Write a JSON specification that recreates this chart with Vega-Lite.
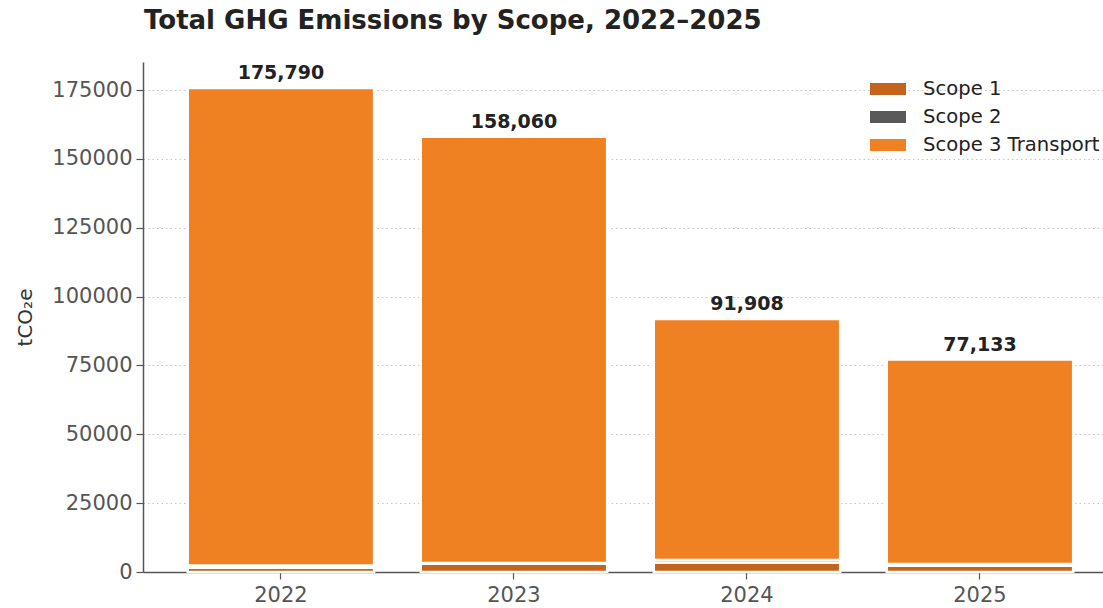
{
  "$schema": "https://vega.github.io/schema/vega-lite/v6.json",
  "autosize": {"type": "none"},
  "width": 960,
  "height": 510,
  "padding": {"left": 143, "top": 62, "right": 0, "bottom": 36},
  "background": "white",
  "title": {
    "text": "Total GHG Emissions by Scope, 2022–2025",
    "anchor": "start",
    "frame": "group",
    "font": "DejaVu Sans",
    "fontSize": 26,
    "fontWeight": "bold",
    "color": "#222222",
    "baseline": "alphabetic",
    "offset": 7,
    "dx": 1
  },
  "config": {
    "view": {"stroke": null},
    "font": "DejaVu Sans"
  },
  "data": {
    "values": [
      {"year": "2022", "scope": "Scope 1", "value": 1540},
      {"year": "2022", "scope": "Scope 2", "value": 800},
      {"year": "2022", "scope": "Scope 3 Transport", "value": 173450},
      {"year": "2023", "scope": "Scope 1", "value": 3000},
      {"year": "2023", "scope": "Scope 2", "value": 290},
      {"year": "2023", "scope": "Scope 3 Transport", "value": 154770},
      {"year": "2024", "scope": "Scope 1", "value": 3360},
      {"year": "2024", "scope": "Scope 2", "value": 1020},
      {"year": "2024", "scope": "Scope 3 Transport", "value": 87528},
      {"year": "2025", "scope": "Scope 1", "value": 2270},
      {"year": "2025", "scope": "Scope 2", "value": 650},
      {"year": "2025", "scope": "Scope 3 Transport", "value": 74213}
    ]
  },
  "encoding": {
    "x": {
      "field": "year",
      "type": "nominal",
      "scale": {"paddingInner": 0.2, "paddingOuter": 0.16, "align": 0.6},
      "axis": {
        "title": null,
        "labelAngle": 0,
        "labelFontSize": 21,
        "labelColor": "#555555",
        "labelPadding": 5,
        "domainColor": "#555555",
        "domainWidth": 1.5,
        "tickColor": "#555555",
        "tickSize": 7,
        "tickWidth": 1.2,
        "grid": false
      }
    }
  },
  "layer": [
    {
      "mark": {"type": "bar", "stroke": "white", "strokeWidth": 2.5},
      "encoding": {
        "y": {
          "field": "value",
          "type": "quantitative",
          "stack": "zero",
          "scale": {"domain": [0, 185200], "nice": false, "zero": true},
          "axis": {
            "title": "tCO₂e",
            "titleFontSize": 20,
            "titleFontWeight": "normal",
            "titleColor": "#333333",
            "titleX": -118,
            "titleY": 255,
            "titleAngle": 270,
            "titleAlign": "center",
            "titleBaseline": "middle",
            "values": [0, 25000, 50000, 75000, 100000, 125000, 150000, 175000],
            "format": "d",
            "labelFontSize": 21,
            "labelColor": "#555555",
            "labelPadding": 4,
            "domainColor": "#555555",
            "domainWidth": 1.5,
            "tickColor": "#555555",
            "tickSize": 7,
            "tickWidth": 1.2,
            "grid": true,
            "gridColor": "#c4c4c4",
            "gridDash": [1.5, 3],
            "gridWidth": 1
          }
        },
        "color": {
          "field": "scope",
          "type": "nominal",
          "scale": {
            "domain": ["Scope 1", "Scope 2", "Scope 3 Transport"],
            "range": ["#C4631A", "#595959", "#F08122"]
          },
          "legend": {
            "title": null,
            "orient": "none",
            "legendX": 727,
            "legendY": 9,
            "symbolType": "M-1,-0.33H1V0.33H-1Z",
            "symbolSize": 1296,
            "symbolStrokeWidth": 0,
            "labelFontSize": 19.6,
            "labelColor": "#222222",
            "labelOffset": 17,
            "labelLimit": 400,
            "rowPadding": 0
          }
        },
        "order": {"field": "scope", "sort": "ascending"}
      }
    },
    {
      "transform": [
        {"aggregate": [{"op": "sum", "field": "value", "as": "total"}], "groupby": ["year"]}
      ],
      "mark": {
        "type": "text",
        "dy": -15,
        "fontSize": 19,
        "fontWeight": "bold",
        "color": "#222222"
      },
      "encoding": {
        "y": {"field": "total", "type": "quantitative"},
        "text": {"field": "total", "type": "quantitative", "format": ","}
      }
    }
  ]
}
